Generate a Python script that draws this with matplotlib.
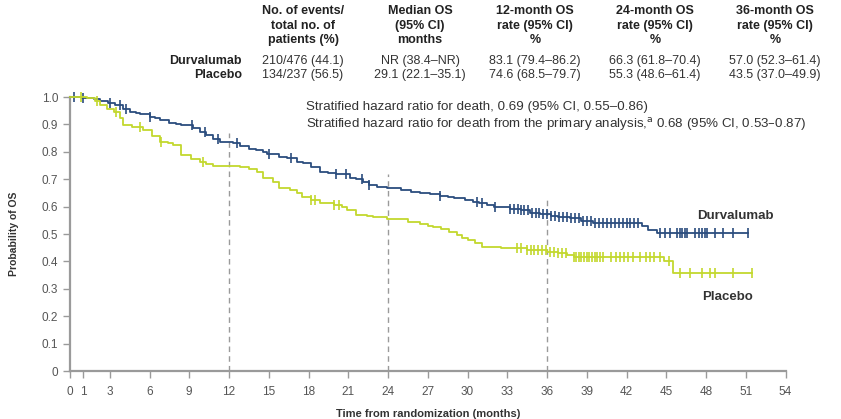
import matplotlib
matplotlib.use("Agg")
import matplotlib.pyplot as plt
import numpy as np

# Kaplan-Meier step points (months, survival probability)
durva_t = [0, 0.9, 1.8, 2.3, 2.9, 3.4, 4.0, 4.5, 5.0, 5.3, 6.0, 6.4, 6.8, 7.5, 8.0, 8.4, 9.3, 9.8,
           10.3, 10.8, 11.3, 12.3, 12.8, 13.5, 14.0, 14.6, 14.9, 15.8, 16.4, 17.1, 17.6, 18.2,
           18.9, 19.5, 20.1, 21.1, 21.6, 22.1, 22.6, 23.2, 23.9, 25.0, 25.7, 26.4, 27.2, 27.9,
           28.5, 29.0, 29.8, 30.4, 30.9, 31.5, 32.0, 32.6, 33.2, 34.0, 34.7, 35.5, 36.3, 36.8,
           37.7, 38.6, 39.5, 43.2, 43.6, 44.3, 51.2]
durva_s = [1.0, 0.995, 0.991, 0.986, 0.978, 0.971, 0.958, 0.945, 0.941, 0.937, 0.928, 0.922,
           0.917, 0.905, 0.900, 0.896, 0.887, 0.872, 0.862, 0.846, 0.837, 0.831, 0.821, 0.812,
           0.806, 0.800, 0.792, 0.782, 0.776, 0.764, 0.758, 0.745, 0.727, 0.723, 0.720, 0.706,
           0.700, 0.691, 0.679, 0.672, 0.667, 0.660, 0.655, 0.650, 0.645, 0.640, 0.636, 0.632,
           0.625, 0.618, 0.612, 0.606, 0.600, 0.597, 0.593, 0.586, 0.578, 0.572, 0.566, 0.562,
           0.558, 0.549, 0.541, 0.528, 0.515, 0.503, 0.503]

plac_t = [0, 1.3, 1.9, 2.3, 2.8, 3.3, 3.8, 4.0, 4.7, 5.5, 6.2, 6.8, 7.4, 7.8, 8.4, 9.1, 9.8,
          10.3, 10.8, 12.8, 13.5, 14.1, 14.6, 15.3, 15.8, 16.6, 17.1, 17.5, 18.2, 18.9, 19.9,
          20.5, 20.9, 21.6, 22.4, 22.9, 23.9, 25.5, 26.4, 27.0, 27.4, 28.0, 28.6, 29.2, 29.6,
          30.0, 30.6, 31.1, 32.5, 34.5, 36.0, 36.8, 37.5, 38.0, 44.8, 45.5, 51.5]
plac_s = [1.0, 0.995, 0.985, 0.970, 0.958, 0.946, 0.923, 0.898, 0.890, 0.880, 0.858, 0.837,
          0.831, 0.825, 0.790, 0.775, 0.764, 0.755, 0.748, 0.745, 0.738, 0.727, 0.704, 0.688,
          0.668, 0.660, 0.650, 0.636, 0.625, 0.613, 0.606, 0.597, 0.588, 0.569, 0.565, 0.561,
          0.555, 0.545, 0.536, 0.531, 0.527, 0.518, 0.506, 0.496, 0.487, 0.478, 0.466, 0.454,
          0.449, 0.440, 0.435, 0.430, 0.423, 0.417, 0.400, 0.357, 0.357]

# censoring times (months)
durva_cens = [0.3, 1.0, 3.0, 3.8, 4.2, 6.0, 9.2, 10.2, 11.2, 12.6, 15.0, 16.7, 20.1, 20.8, 22.0,
              22.6, 27.9, 30.7, 31.1, 32.1, 33.2, 33.5, 33.8, 34.0, 34.3, 34.6, 34.9, 35.2, 35.4,
              35.7, 36.0, 36.3, 36.6, 36.9, 37.2, 37.5, 37.8, 38.1, 38.4, 38.7, 39.0, 39.3, 39.6,
              39.9, 40.2, 40.5, 40.8, 41.1, 41.4, 41.7, 42.0, 42.3, 42.6, 42.9, 44.5, 44.9, 45.3,
              45.8, 46.0, 46.2, 46.4, 46.6, 47.2, 47.5, 47.7, 47.9, 48.1, 48.7, 49.3, 50.0, 51.2]
plac_cens = [0.8, 2.0, 3.5, 5.3, 6.9, 10.0, 18.2, 18.5, 19.9, 20.3, 33.7, 34.0, 34.5, 34.8, 35.0,
             35.3, 35.6, 35.9, 36.2, 36.5, 36.8, 37.1, 37.4, 38.0, 38.2, 38.4, 38.6, 38.8, 39.0,
             39.2, 39.4, 39.6, 39.8, 40.0, 40.2, 40.8, 41.2, 41.5, 41.8, 42.1, 42.5, 43.0, 43.5,
             43.8, 44.1, 44.5, 45.2, 46.0, 46.8, 47.7, 48.3, 48.7, 50.0, 51.5]

landmarks = [12, 24, 36]
landmark_tops = [0.87, 0.72, 0.63]

xticks = [0, 1, 3, 6, 9, 12, 15, 18, 21, 24, 27, 30, 33, 36, 39, 42, 45, 48, 51, 54]
yticks = [0, 0.1, 0.2, 0.3, 0.4, 0.5, 0.6, 0.7, 0.8, 0.9, 1.0]
ytick_labels = ["0", "0.1", "0.2", "0.3", "0.4", "0.5", "0.6", "0.7", "0.8", "0.9", "1.0"]

arms = ["Durvalumab", "Placebo"]
table_header = ["No. of events/\ntotal no. of\npatients (%)",
                "Median OS\n(95% CI)\nmonths",
                "12-month OS\nrate (95% CI)\n%",
                "24-month OS\nrate (95% CI)\n%",
                "36-month OS\nrate (95% CI)\n%"]
table_rows = [["210/476 (44.1)", "NR (38.4\u2013NR)", "83.1 (79.4\u201386.2)",
               "66.3 (61.8\u201370.4)", "57.0 (52.3\u201361.4)"],
              ["134/237 (56.5)", "29.1 (22.1\u201335.1)", "74.6 (68.5\u201379.7)",
               "55.3 (48.6\u201361.4)", "43.5 (37.0\u201349.9)"]]

blue = "#2b4d7e"
green = "#c3d82e"
grey = "#9a9a9a"

plt.rcParams["font.family"] = ["Liberation Sans", "DejaVu Sans"]

fig = plt.figure(figsize=(8.41, 4.19), dpi=100)
ax = fig.add_axes([70 / 841, 48 / 419, 715.5 / 841, 274 / 419])


def surv_at(t, s, times):
    idx = np.searchsorted(t, times, side="right") - 1
    return np.asarray(s)[idx]


for x, top in zip(landmarks, landmark_tops):
    ax.plot([x, x], [0, top], ls=(0, (4, 3)), color=grey, lw=1.0, zorder=1)

for t, s, cens, col in [(durva_t, durva_s, durva_cens, blue), (plac_t, plac_s, plac_cens, green)]:
    ax.step(t, s, where="post", color=col, lw=1.3, clip_on=False, zorder=3)
    ax.plot(cens, surv_at(t, s, cens), ls="none", marker="|", ms=6.5, mew=1.2,
            color=col, clip_on=False, zorder=3)

ax.set_xlim(0, 54)
ax.set_ylim(0, 1.0)
ax.set_xticks(xticks)
ax.set_yticks(yticks)
ax.set_yticklabels(ytick_labels)
for sp in ["top", "right"]:
    ax.spines[sp].set_visible(False)
for sp in ["left", "bottom"]:
    ax.spines[sp].set_color(grey)
    ax.spines[sp].set_linewidth(1.6)
ax.tick_params(colors=grey, labelcolor="#555555", labelsize=8.5, length=5, width=1.0)
ax.tick_params(axis="x", pad=6)

ax.set_xlabel("Time from randomization (months)", fontsize=8, fontweight="bold",
              color="#333333", labelpad=8)
ax.set_ylabel("Probability of OS", fontsize=7.5, fontweight="bold", color="#333333",
              labelpad=16)

ax.text(17.8, 0.965, "Stratified hazard ratio for death, 0.69 (95% CI, 0.55\u20130.86)",
        fontsize=9.6, color="#333333", va="center")
ax.text(17.8, 0.9, "Stratified hazard ratio for death from the primary analysis,$^{\\mathrm{a}}$ "
        "0.68 (95% CI, 0.53\u20130.87)", fontsize=9.6, color="#333333", va="center")

ax.text(47.3, 0.565, "Durvalumab", fontsize=9.5, fontweight="bold", color="#333333", va="center")
ax.text(47.7, 0.27, "Placebo", fontsize=9.5, fontweight="bold", color="#333333", va="center")

# summary table above the plot
col_x = [303, 420, 535, 655, 775]
for cx, head in zip(col_x, table_header):
    fig.text(cx / 841, 1 - 5 / 419, head, ha="center", va="top", fontsize=9,
             fontweight="bold", color="#222222", linespacing=1.3)
for r, (arm, row) in enumerate(zip(arms, table_rows)):
    y = 1 - (61 + 14 * r) / 419
    fig.text(242 / 841, y, arm, ha="right", va="center", fontsize=9, fontweight="bold",
             color="#222222")
    for cx, val in zip(col_x, row):
        fig.text(cx / 841, y, val, ha="center", va="center", fontsize=9, color="#333333")

fig.savefig("out.png", dpi=100)
